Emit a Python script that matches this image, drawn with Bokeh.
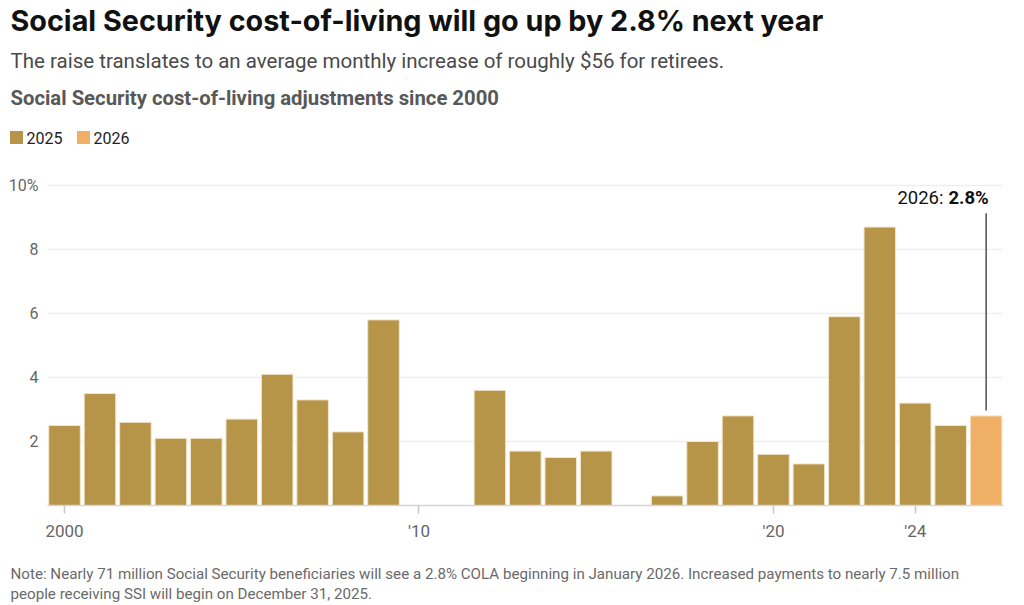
from bokeh.plotting import figure
from bokeh.layouts import column, row
from bokeh.models import (ColumnDataSource, Label, FixedTicker, Range1d, LinearAxis)
from bokeh.core.properties import value
from bokeh.embed import file_html
from bokeh.resources import INLINE

# ---- data ----
years = list(range(2000, 2027))
cola = [2.5, 3.5, 2.6, 2.1, 2.1, 2.7, 4.1, 3.3, 2.3, 5.8, 0.0, 0.0, 3.6, 1.7, 1.5,
        1.7, 0.0, 0.3, 2.0, 2.8, 1.6, 1.3, 5.9, 8.7, 3.2, 2.5, 2.8]
series_names = ["2025", "2026"]
series_colors = ["#b79548", "#efb066"]
y_ticks = [2, 4, 6, 8, 10]
x_ticks = [2000, 2010, 2020, 2024]
x_tick_labels = {2000: "2000", 2010: "'10", 2020: "'20", 2024: "'24"}

title = "Social Security cost-of-living will go up by 2.8% next year"
subtitle = "The raise translates to an average monthly increase of roughly $56 for retirees."
heading = "Social Security cost-of-living adjustments since 2000"
note1 = ("Note: Nearly 71 million Social Security beneficiaries will see a 2.8% COLA beginning in "
         "January 2026. Increased payments to nearly 7.5 million")
note2 = "people receiving SSI will begin on December 31, 2025."

FONT = "Roboto"
W = 1024


def blank(height):
    f = figure(width=W, height=height, output_backend="svg", toolbar_location=None,
               x_range=Range1d(0, W), y_range=Range1d(height, 0),
               min_border=0, x_axis_location=None, y_axis_location=None)
    f.outline_line_color = None
    f.grid.visible = False
    return f


# ---- header ----
h = blank(172)
h.text(x=[10], y=[20], text=[title], text_font=value("Inter"), text_font_size="28.75px",
       text_font_style="bold", text_color="#111111", text_baseline="middle")
h.text(x=[10], y=[60.5], text=[subtitle], text_font=value(FONT), text_font_size="20.5px",
       text_color="#4a4a4a", text_baseline="middle")
h.text(x=[10], y=[97.5], text=[heading], text_font=value(FONT), text_font_size="20.3px",
       text_font_style="bold", text_color="#585858", text_baseline="middle")
leg_x = [16, 83]
h.rect(x=leg_x, y=[137, 137], width=13, height=13, fill_color=series_colors,
       line_color=None)
h.text(x=[x + 10 for x in leg_x], y=[137, 137], text=series_names,
       text_font=value(FONT), text_font_size="16px", text_color="#222222",
       text_baseline="middle")

# ---- chart ----
hist_x = [y for y, v in zip(years[:-1], cola[:-1]) if v > 0]
hist_v = [v for y, v in zip(years[:-1], cola[:-1]) if v > 0]
src_hist = ColumnDataSource(dict(x=hist_x, top=hist_v))
src_new = ColumnDataSource(dict(x=[years[-1]], top=[cola[-1]]))

p = figure(width=W, height=373, output_backend="svg", toolbar_location=None,
           x_range=Range1d(1999.52, 2026.49), y_range=Range1d(0, 10.156),
           min_border_left=47, min_border_right=21, min_border_top=8,
           min_border_bottom=40, x_axis_location=None, y_axis_location=None)
p.outline_line_color = None

p.vbar(x="x", top="top", width=0.89, source=src_hist,
       fill_color=series_colors[0], line_color="#f1e6cc", line_width=1)
p.vbar(x="x", top="top", width=0.89, source=src_new,
       fill_color=series_colors[1], line_color="#f8e2c4", line_width=1)

yax = LinearAxis(ticker=FixedTicker(ticks=y_ticks), major_label_overrides={10: "10%"})
yax.axis_line_color = None
yax.major_tick_line_color = None
yax.minor_tick_line_color = None
yax.major_label_standoff = 3
yax.major_label_text_font = FONT
yax.major_label_text_font_size = "16px"
yax.major_label_text_color = "#666666"
p.add_layout(yax, "left")

xax = LinearAxis(ticker=FixedTicker(ticks=x_ticks), major_label_overrides=x_tick_labels)
xax.axis_line_color = "#d6d6d6"
xax.axis_line_width = 1.5
xax.major_tick_line_color = "#c8c8c8"
xax.major_tick_line_width = 1.5
xax.major_tick_in = 0
xax.major_tick_out = 8
xax.minor_tick_line_color = None
xax.major_label_standoff = 7
xax.major_label_text_font = FONT
xax.major_label_text_font_size = "17px"
xax.major_label_text_color = "#666666"
p.add_layout(xax, "below")

p.xgrid.visible = False
p.ygrid.ticker = FixedTicker(ticks=y_ticks)
p.ygrid.grid_line_color = "#eeeeee"
p.ygrid.grid_line_width = 1.5

seg_src = ColumnDataSource(dict(x0=[years[-1]], y0=[cola[-1] + 0.17],
                                x1=[years[-1]], y1=[9.13]))
p.segment(x0="x0", y0="y0", x1="x1", y1="y1", source=seg_src,
          line_color="#333333", line_width=1.3)
p.add_layout(Label(x=896, y=9.62, x_units="screen", y_units="data",
                   text=f"{years[-1]}:", text_align="right", text_baseline="middle",
                   text_font=FONT, text_font_size="18.5px", text_color="#111111"))
p.add_layout(Label(x=901, y=9.62, x_units="screen", y_units="data",
                   text=f"{cola[-1]}%", text_align="left", text_baseline="middle",
                   text_font=FONT, text_font_size="18.5px", text_font_style="bold",
                   text_color="#111111"))

# ---- footer ----
ft = blank(60)
ft.text(x=[10, 10], y=[28, 48], text=[note1, note2], text_font=value(FONT),
        text_font_size="15.15px", text_color="#6a6a6a", text_baseline="middle")

layout = column(row(h), row(p), row(ft), spacing=0)
open("out.html", "w").write(file_html(layout, INLINE))
